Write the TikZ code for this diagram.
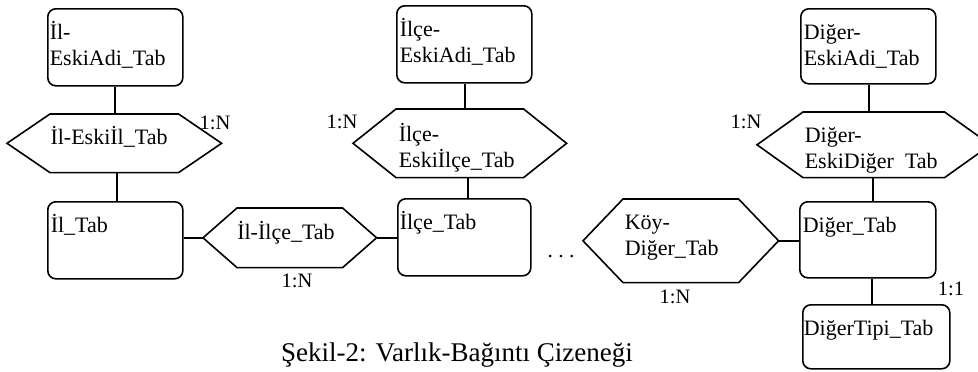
\documentclass[tikz,border=0pt]{standalone}
\usepackage{fontspec}
\setmainfont{Liberation Serif}
\usetikzlibrary{calc}
\newcommand\hexpath[2]{\draw (#1.west) -- ([xshift=#2pt]#1.north west) -- ([xshift=-#2pt]#1.north east) -- (#1.east) -- ([xshift=-#2pt]#1.south east) -- ([xshift=#2pt]#1.south west) -- cycle;}
\begin{document}
\begin{tikzpicture}[x=1pt,y=-1pt,line width=1.6pt,line join=miter,
  ent/.style={draw,rounded corners=8pt,anchor=north west,inner sep=0pt,line width=1.6pt},
  hexbox/.style={draw=none,inner sep=0pt,anchor=north west},
  txt/.style={anchor=north west,inner sep=0pt,align=left,font=\fontsize{22}{26}\selectfont},
  htxt/.style={anchor=base,inner sep=0pt,font=\fontsize{22}{26}\selectfont},
  card/.style={inner sep=0pt,font=\fontsize{20.5}{24}\selectfont}]
\useasboundingbox (0,0) rectangle (978,372);
\clip (0,0) rectangle (978,372);
% entity boxes
\node[ent,minimum width=135pt,minimum height=77pt] (b1) at (47,8) {};
\node[ent,minimum width=135pt,minimum height=77pt] (b2) at (47,201) {};
\node[ent,minimum width=135pt,minimum height=77pt] (b3) at (396,5) {};
\node[ent,minimum width=133pt,minimum height=77pt] (b4) at (397,198) {};
\node[ent,minimum width=135pt,minimum height=75pt] (b5) at (800,8) {};
\node[ent,minimum width=136pt,minimum height=76pt] (b6) at (799,201) {};
\node[ent,minimum width=147pt,minimum height=64pt] (b7) at (802,304) {};
% box texts
\node[txt] (t1) at ($(b1.north west)+(2,12.8)$) {İl-\strut\\EskiAdi\_Tab\strut};
\node[txt] (t2) at ($(b2.north west)+(3,12.8)$) {İl\_Tab\strut};
\node[txt] (t3) at ($(b3.north west)+(3,12.8)$) {İlçe-\strut\\EskiAdi\_Tab\strut};
\node[txt] (t4) at ($(b4.north west)+(2,12.8)$) {İlçe\_Tab\strut};
\node[txt] (t5) at ($(b5.north west)+(3,12.8)$) {Diğer-\strut\\EskiAdi\_Tab\strut};
\node[txt] (t6) at ($(b6.north west)+(3,12.8)$) {Diğer\_Tab\strut};
\node[txt] (t7) at ($(b7.north west)+(1,12.8)$) {DiğerTipi\_Tab\strut};
% relationship hexagons
\node[hexbox,minimum width=213pt,minimum height=57pt] (h1) at (7,114) {};
\node[hexbox,minimum width=172pt,minimum height=58pt] (h2) at (203,208) {};
\node[hexbox,minimum width=212pt,minimum height=67pt] (h3) at (353,109) {};
\node[hexbox,minimum width=194pt,minimum height=82pt] (h4) at (583,199) {};
\node[hexbox,minimum width=232pt,minimum height=64pt] (h5) at (757,112) {};
\hexpath{h1}{43}
\hexpath{h2}{34}
\hexpath{h3}{43}
\hexpath{h4}{40}
\hexpath{h5}{46}
\node[htxt] (u1) at (109,144) {İl-Eskiİl\_Tab};
\node[htxt] (u2) at (286,239) {İl-İlçe\_Tab};
\node[txt] (u3) at (398,122) {İlçe-\strut\\Eskiİlçe\_Tab\strut};
\node[txt] (u4) at (624,210) {Köy-\strut\\Diğer\_Tab\strut};
\node[txt] (u5) at (804,123) {Diğer-\strut\\EskiDiğer\hspace{0.5em}Tab\strut};
% connectors
\draw (b1.south -| 115,0) -- (h1.north -| 115,0);
\draw (h1.south -| 117,0) -- (b2.north -| 117,0);
\draw (b2.east |- h2.west) -- (h2.west);
\draw (h2.east) -- (b4.west |- h2.east);
\draw (b3.south -| 465,0) -- (h3.north -| 465,0);
\draw (h3.south -| 468,0) -- (b4.north -| 468,0);
\draw (h4.east) -- (b6.west |- h4.east);
\draw (b5.south -| 869,0) -- (h5.north -| 869,0);
\draw (h5.south -| 873,0) -- (b6.north -| 873,0);
\draw (b6.south -| 872,0) -- (b7.north -| 872,0);
% cardinalities
\node[card] (c1) at (215,123) {1:N};
\node[card] (c2) at (297,281) {1:N};
\node[card] (c3) at (342,122) {1:N};
\node[card] (c4) at (675,297) {1:N};
\node[card] (c5) at (746,122) {1:N};
\node[card] (c6) at (951,289) {1:1};
\node[anchor=base,inner sep=0pt,font=\fontsize{21.5}{26}\selectfont] (dots) at (561,257) {.\ .\ .};
% caption
\node[anchor=base,inner sep=0pt,font=\fontsize{27}{30}\selectfont] (cap) at (457,361) {Şekil-2: Varlık-Bağıntı Çizeneği};
\end{tikzpicture}
\end{document}
